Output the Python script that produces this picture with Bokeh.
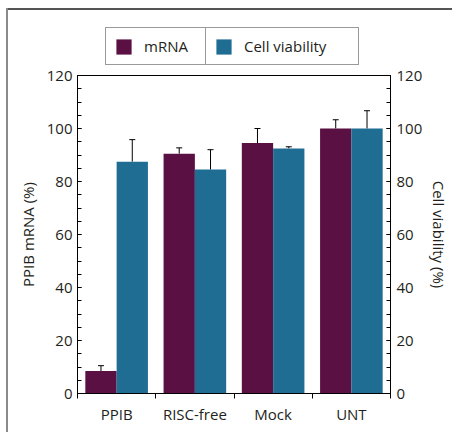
from bokeh.plotting import figure
from bokeh.layouts import column, row
from bokeh.models import (Range1d, LinearAxis, FixedTicker, Legend, LegendItem,
                          Whisker, TeeHead, ColumnDataSource, Spacer)
from bokeh.embed import file_html
from bokeh.resources import INLINE

categories = ["PPIB", "RISC-free", "Mock", "UNT"]
mrna = [8.5, 90.5, 94.5, 100.0]
mrna_err = [2.0, 2.2, 5.5, 3.3]
viability = [87.5, 84.5, 92.5, 100.0]
viability_err = [8.3, 7.5, 0.6, 6.7]
series_names = ["mRNA", "Cell viability"]
y_ticks = [0, 20, 40, 60, 80, 100, 120]
y_minor = list(range(0, 121, 5))

MRNA_COLOR = "#5b1044"
CV_COLOR = "#1f6d93"
TEXT = "#231f20"
FONT = "Open Sans"
W = 444

idx = list(range(len(categories)))
src = ColumnDataSource(dict(
    xm=[i + 0.3 for i in idx], xc=[i + 0.7 for i in idx],
    mrna=mrna, viability=viability,
    mtop=[v + e for v, e in zip(mrna, mrna_err)],
    ctop=[v + e for v, e in zip(viability, viability_err)],
))

p = figure(width=W, height=367, output_backend="svg", toolbar_location=None,
           x_range=Range1d(0, len(categories)), y_range=Range1d(0, 120),
           min_border_left=69, min_border_right=57, min_border_top=10,
           min_border_bottom=39, y_axis_location=None, x_axis_location=None,
           margin=0)
p.grid.visible = False
p.outline_line_color = "black"
p.outline_line_width = 1
p.border_fill_color = "white"

r_m = p.vbar(x="xm", top="mrna", width=0.4, source=src, fill_color=MRNA_COLOR, line_color=None)
r_c = p.vbar(x="xc", top="viability", width=0.4, source=src, fill_color=CV_COLOR, line_color=None)

for base, lo, hi in (("xm", "mrna", "mtop"), ("xc", "viability", "ctop")):
    p.add_layout(Whisker(base=base, lower=lo, upper=hi, source=src, dimension="height",
                         line_color="black", line_width=1,
                         upper_head=TeeHead(size=6, line_color="black", line_width=1),
                         lower_head=None))

def style_axis(ax):
    ax.axis_line_color = "black"
    ax.major_tick_line_color = "black"
    ax.minor_tick_line_color = "black"
    ax.major_label_text_font = FONT
    ax.major_label_text_font_size = "15px"
    ax.major_label_text_color = TEXT
    ax.axis_label_text_font = FONT
    ax.axis_label_text_font_size = "15px"
    ax.axis_label_text_font_style = "normal"
    ax.axis_label_text_color = TEXT

yl = LinearAxis(ticker=FixedTicker(ticks=y_ticks, minor_ticks=y_minor), axis_label="PPIB mRNA (%)")
style_axis(yl)
yl.major_tick_in = 4; yl.major_tick_out = 0; yl.minor_tick_in = 4; yl.minor_tick_out = 0
yl.major_label_standoff = 5
yl.axis_label_standoff = 6
p.add_layout(yl, "left")

yr = LinearAxis(ticker=FixedTicker(ticks=y_ticks, minor_ticks=y_minor), axis_label="Cell viability (%)")
style_axis(yr)
yr.major_tick_in = 4; yr.major_tick_out = 0; yr.minor_tick_in = 4; yr.minor_tick_out = 0
yr.major_label_standoff = 6
yr.axis_label_standoff = 4
p.add_layout(yr, "right")

xb = LinearAxis(ticker=FixedTicker(ticks=[i + 0.5 for i in idx],
                                   minor_ticks=list(range(len(categories) + 1))))
style_axis(xb)
xb.major_label_overrides = {i + 0.5: c for i, c in zip(idx, categories)}
xb.major_tick_in = 0; xb.major_tick_out = 0
xb.minor_tick_in = 0; xb.minor_tick_out = 5
xb.major_label_standoff = 5
p.add_layout(xb, "below")

# legend strip above the chart (its renderers are hidden; only the legend shows)
lf = figure(width=W, height=55, output_backend="svg", toolbar_location=None,
            x_range=Range1d(0, len(categories)), y_range=Range1d(0, 120),
            min_border=0, x_axis_location=None, y_axis_location=None, margin=0)
lf.grid.visible = False
lf.outline_line_color = None
lf.border_fill_color = "white"
lr_m = lf.vbar(x="xm", top="mrna", width=0.4, source=src, fill_color=MRNA_COLOR,
               line_color=None, visible=False)
lr_c = lf.vbar(x="xc", top="viability", width=0.4, source=src, fill_color=CV_COLOR,
               line_color=None, visible=False)

def make_legend(label, r, x, lw):
    return Legend(items=[LegendItem(label=label, renderers=[r])],
                  location=(x, 0), orientation="horizontal",
                  padding=8, margin=0, spacing=0,
                  glyph_width=19, glyph_height=19, label_standoff=11,
                  label_width=lw, label_height=19,
                  label_text_font=FONT, label_text_font_size="15px",
                  label_text_color=TEXT, label_text_baseline="middle",
                  border_line_color="#333333", border_line_width=1,
                  background_fill_color="white", background_fill_alpha=1.0,
                  inactive_fill_alpha=0.0, click_policy="none")

# the legend strip's frame is aligned with the chart's frame (left edge at x=77)
lf.add_layout(make_legend(series_names[0], lr_m, 28, 54), "center")
lf.add_layout(make_legend(series_names[1], lr_c, 128, 106), "center")

hline = Spacer(width=W, height=2, margin=0, styles={"background-color": "#555555"})
vline = Spacer(width=2, height=424, margin=0, styles={"background-color": "#8a8a8a"})
root = column(Spacer(width=452, height=8, margin=0),
              row(Spacer(width=6, height=424, margin=0), vline,
                  column(hline, lf, p, spacing=0, margin=0), spacing=0, margin=0),
              spacing=0, margin=0)

open("out.html", "w").write(file_html(root, INLINE))
